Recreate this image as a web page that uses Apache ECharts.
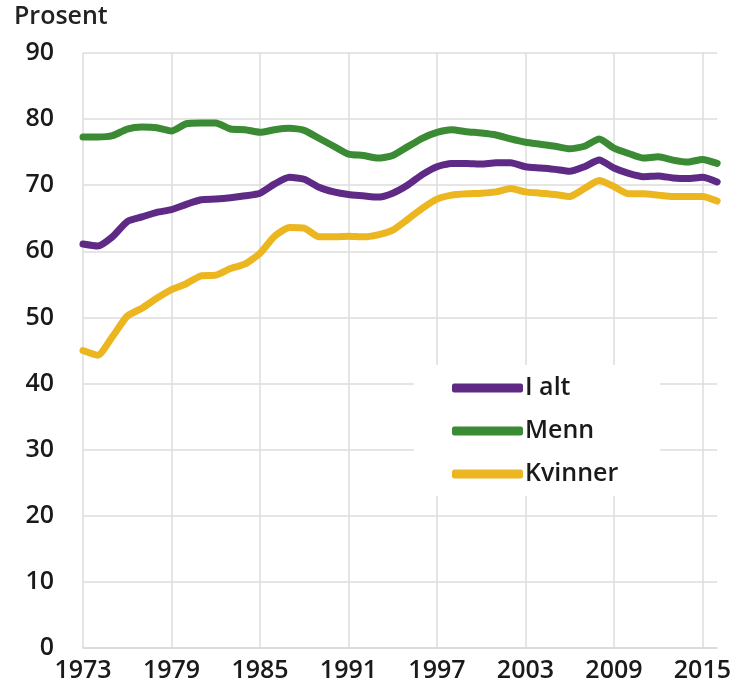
<!DOCTYPE html>
<html>
<head>
<meta charset="utf-8">
<script src="https://cdn.jsdelivr.net/npm/echarts@6/dist/echarts.min.js"></script>
<style>
html,body{margin:0;padding:0;background:#fff;}
#chart{width:734px;height:690px;}
</style>
</head>
<body>
<div id="chart"></div>
<script>
const years = [];
for (let y = 1973; y <= 2016; y++) years.push(String(y));

const seriesNames = ['I alt', 'Menn', 'Kvinner'];

const iAlt = [61.1, 60.8, 62.2, 64.5, 65.2, 65.9, 66.3, 67.1, 67.8, 67.9,
  68.1, 68.4, 68.8, 70.2, 71.2, 70.9, 69.7, 69.0, 68.6, 68.4,
  68.2, 68.8, 70.0, 71.6, 72.8, 73.3, 73.3, 73.2, 73.4, 73.4,
  72.8, 72.6, 72.4, 72.1, 72.8, 73.8, 72.6, 71.8, 71.3, 71.4,
  71.1, 71.0, 71.2, 70.5];

const menn = [77.3, 77.3, 77.5, 78.5, 78.8, 78.7, 78.2, 79.3, 79.4, 79.4,
  78.5, 78.4, 78.0, 78.4, 78.6, 78.3, 77.1, 75.9, 74.7, 74.5,
  74.1, 74.5, 75.8, 77.1, 78.0, 78.4, 78.1, 77.9, 77.6, 77.0,
  76.5, 76.2, 75.9, 75.5, 75.9, 77.0, 75.6, 74.8, 74.1, 74.3,
  73.8, 73.5, 73.9, 73.3];

const kvinner = [45.0, 44.3, 47.1, 50.2, 51.4, 52.9, 54.2, 55.1, 56.3, 56.4,
  57.4, 58.1, 59.7, 62.3, 63.6, 63.5, 62.2, 62.2, 62.3, 62.2,
  62.5, 63.2, 64.8, 66.5, 67.9, 68.5, 68.7, 68.8, 69.0, 69.5,
  69.0, 68.8, 68.6, 68.3, 69.5, 70.7, 69.8, 68.7, 68.7, 68.5,
  68.3, 68.3, 68.3, 67.6];

const yTicks = { min: 0, max: 90, interval: 10 };
const yName = 'Prosent';
const colors = ['#5e2a86', '#3b8a34', '#ecb621'];

const font = '"Open Sans", "Noto Sans", sans-serif';
const chart = echarts.init(document.getElementById('chart'), null, { renderer: 'canvas' });

function mkSeries(name, data, color) {
  return {
    name: name,
    type: 'line',
    data: data,
    showSymbol: false,
    smooth: 0.2,
    lineStyle: { width: 7, color: color, cap: 'round', join: 'round' },
    itemStyle: { color: color },
    emphasis: { disabled: true },
    animation: false
  };
}

chart.setOption({
  animation: false,
  backgroundColor: '#fff',
  textStyle: { fontFamily: font },
  grid: { left: 83, right: 16, top: 53, bottom: 42, containLabel: false },
  graphic: [{
    type: 'text',
    left: 14,
    top: 4,
    style: { text: yName, font: '600 25px ' + font, fill: '#222' }
  }],
  legend: {
    orient: 'vertical',
    left: 414,
    top: 365,
    padding: [8, 42, 7, 38],
    backgroundColor: '#ffffff',
    itemWidth: 71,
    itemHeight: 9,
    itemGap: 13,
    icon: 'roundRect',
    textStyle: { fontSize: 25, fontWeight: 600, lineHeight: 30, color: '#1a1a1a', fontFamily: font, padding: [0, 0, 0, -3] },
    data: seriesNames
  },
  xAxis: {
    type: 'category',
    boundaryGap: false,
    data: years,
    axisLine: { show: true, lineStyle: { color: '#d9d9d9', width: 1.5 } },
    axisTick: { show: false },
    axisLabel: { interval: 5, fontSize: 25, fontWeight: 600, color: '#1a1a1a', margin: 10, fontFamily: font },
    splitLine: { show: true, interval: 5, lineStyle: { color: '#dcdcdc', width: 1.5 } }
  },
  yAxis: {
    type: 'value',
    min: yTicks.min,
    max: yTicks.max,
    interval: yTicks.interval,
    axisLine: { show: false },
    axisTick: { show: false },
    axisLabel: { fontSize: 25, fontWeight: 600, color: '#1a1a1a', margin: 29, fontFamily: font },
    splitLine: { show: true, lineStyle: { color: '#dcdcdc', width: 1.5 } }
  },
  series: [
    mkSeries(seriesNames[0], iAlt, colors[0]),
    mkSeries(seriesNames[1], menn, colors[1]),
    mkSeries(seriesNames[2], kvinner, colors[2])
  ]
});
</script>
</body>
</html>
